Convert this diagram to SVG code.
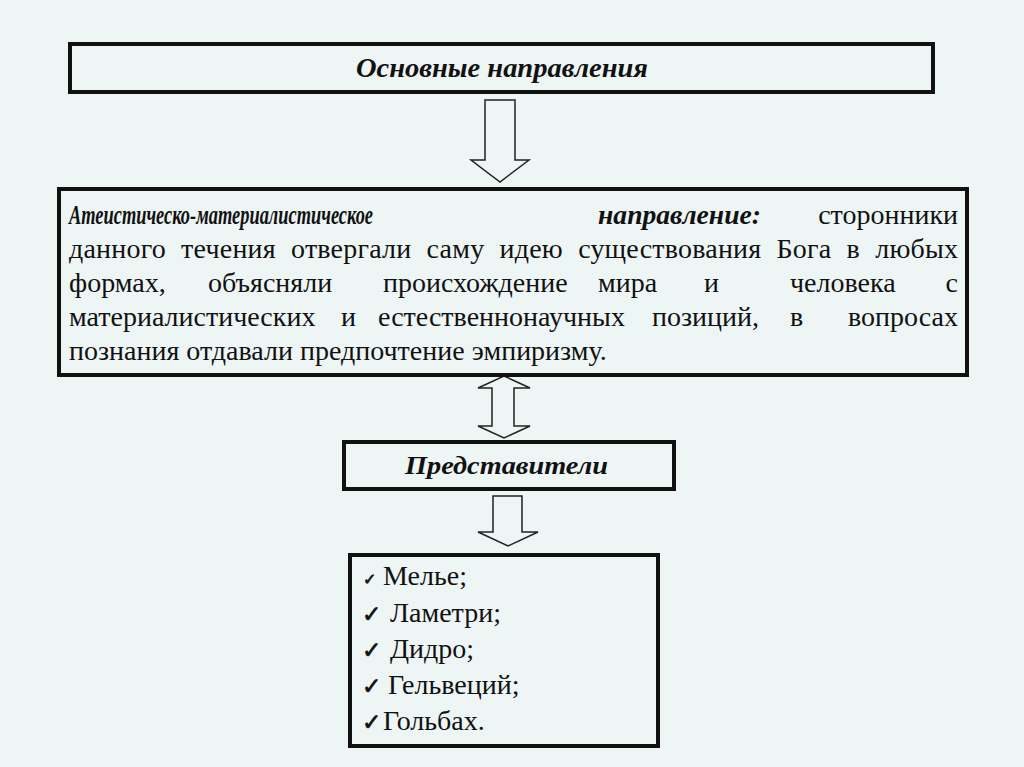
<svg xmlns="http://www.w3.org/2000/svg" width="1024" height="767" viewBox="0 0 1024 767">
<style>
.box{fill:#eef5f5;stroke:#111;stroke-width:4}
.arr{fill:#eef5f5;stroke:#222;stroke-width:1.5;stroke-linejoin:miter}
.t{font-family:"Liberation Serif","Times New Roman",serif;font-size:28px;fill:#111}
.bi{font-family:"Liberation Serif","Times New Roman",serif;font-weight:bold;font-style:italic;fill:#111}
.ck{font-family:"DejaVu Sans",sans-serif;fill:#111;stroke:#111;stroke-width:0.7}
</style>
<rect width="1024" height="767" fill="#eef5f5"/>
<g id="connectors">
<polygon class="arr" points="485,100 515,100 515,160 529,160 500,182 471,160 485,160"/>
<polygon class="arr" points="504,376 530,388 514,388 514,426 530,426 504,438 478,426 492,426 492,388 478,388"/>
<polygon class="arr" points="493,496 522,496 522,532 538,532 508,546 478,532 493,532"/>
</g>
<g id="node-main">
<rect class="box" x="70" y="44" width="863" height="48"/>
<text class="bi" x="356" y="77" font-size="27" textLength="292" lengthAdjust="spacingAndGlyphs">Основные направления</text>
</g>
<g id="node-description">
<rect class="box" x="59" y="189" width="908" height="186"/>
<text class="bi" x="69" y="224" font-size="27" textLength="304" lengthAdjust="spacingAndGlyphs">Атеистическо-материалистическое</text>
<text class="bi" x="598" y="224" font-size="27" textLength="163" lengthAdjust="spacingAndGlyphs">направление:</text>
<text class="t" x="958" y="224" text-anchor="end">сторонники</text>
<text class="t" x="69" y="258" word-spacing="8" textLength="889" lengthAdjust="spacing">данного течения отвергали саму идею существования Бога в любых</text>
<text class="t" y="292"><tspan x="69">формах,</tspan><tspan x="208">объясняли</tspan><tspan x="383">происхождение</tspan><tspan x="598">мира</tspan><tspan x="704">и</tspan><tspan x="790">человека</tspan></text>
<text class="t" x="958" y="292" text-anchor="end">с</text>
<text class="t" y="326"><tspan x="69">материалистических</tspan><tspan x="341">и</tspan><tspan x="378">естественнонаучных</tspan><tspan x="652">позиций,</tspan><tspan x="790">в</tspan></text>
<text class="t" x="958" y="326" text-anchor="end">вопросах</text>
<text class="t" x="69" y="360">познания отдавали предпочтение эмпиризму.</text>
</g>
<g id="node-representatives">
<rect class="box" x="344" y="442" width="330" height="47"/>
<text class="bi" x="405" y="474" font-size="26" textLength="203" lengthAdjust="spacingAndGlyphs">Представители</text>
</g>
<g id="node-list">
<rect class="box" x="350" y="555" width="308" height="191"/>
<text class="ck" x="363" y="585" font-size="16">✓</text>
<text class="t" x="383" y="585">Мелье;</text>
<text class="ck" x="362" y="622" font-size="23">✓</text>
<text class="t" x="390" y="622">Ламетри;</text>
<text class="ck" x="362" y="658" font-size="23">✓</text>
<text class="t" x="390" y="658">Дидро;</text>
<text class="ck" x="362" y="694" font-size="23">✓</text>
<text class="t" x="388" y="694">Гельвеций;</text>
<text class="ck" x="362" y="730" font-size="23">✓</text>
<text class="t" x="383" y="730">Гольбах.</text>
</g>
</svg>
